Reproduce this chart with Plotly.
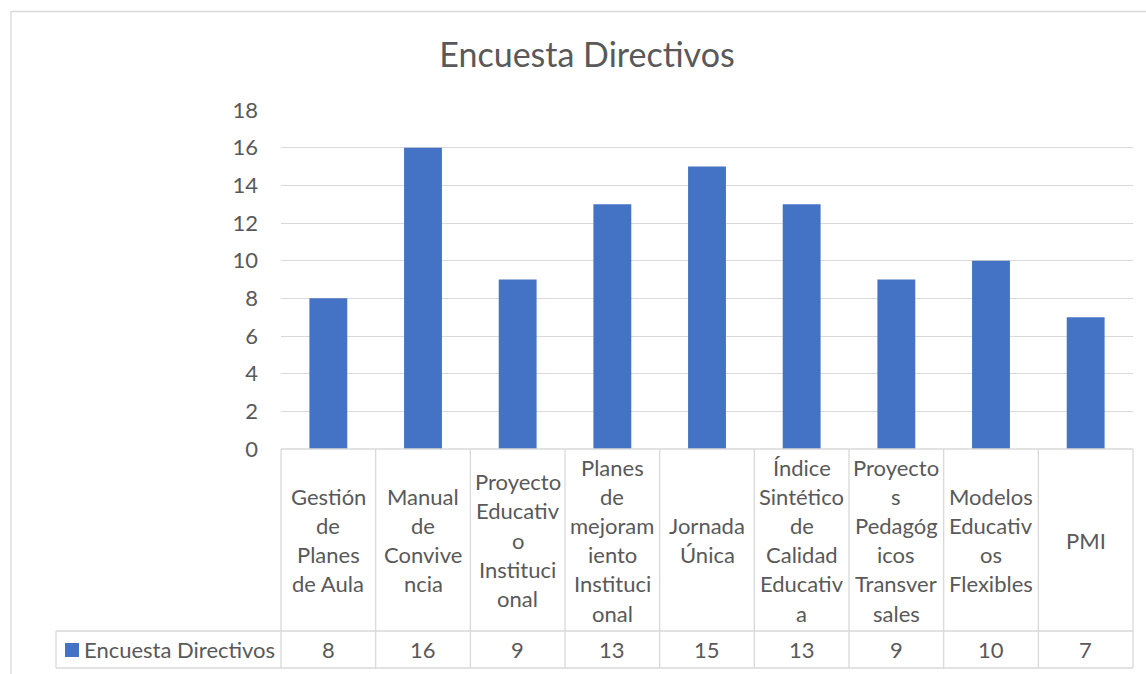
import plotly.graph_objects as go

title = "Encuesta Directivos"
series_name = "Encuesta Directivos"
categories = [
    "Gestión<br>de<br>Planes<br>de Aula",
    "Manual<br>de<br>Convive<br>ncia",
    "Proyecto<br>Educativ<br>o<br>Instituci<br>onal",
    "Planes<br>de<br>mejoram<br>iento<br>Instituci<br>onal",
    "Jornada<br>Única",
    "Índice<br>Sintético<br>de<br>Calidad<br>Educativ<br>a",
    "Proyecto<br>s<br>Pedagóg<br>icos<br>Transver<br>sales",
    "Modelos<br>Educativ<br>os<br>Flexibles",
    "PMI",
]
values = [8, 16, 9, 13, 15, 13, 9, 10, 7]
y_ticks = [0, 2, 4, 6, 8, 10, 12, 14, 16, 18]

W, H = 1146, 674
L, R, T, B = 281, 1133, 110, 449
pw, ph = R - L, B - T
FONT = "Lato"
FS = 22
TXT = "#595959"
GRID = "#d9d9d9"
BAR = "#4472c4"
LINE_H = 29.2

def px_x(x):
    return (x - L) / pw

def px_y(y):
    return (B - y) / ph

n = len(categories)
xs = list(range(n))

fig = go.Figure()
fig.add_trace(go.Bar(x=xs, y=values, marker=dict(color=BAR, line=dict(width=0)),
                     width=0.4, name=series_name, showlegend=False))

shapes = []
annotations = []
line = dict(color=GRID, width=1.3)
header_bottom = 631
table_bottom = 668
legend_left = 56
shapes.append(dict(type="line", xref="paper", yref="paper", x0=0, x1=1,
                   y0=px_y(B), y1=px_y(B), line=line))
shapes.append(dict(type="line", xref="paper", yref="paper", x0=px_x(legend_left), x1=1,
                   y0=px_y(header_bottom), y1=px_y(header_bottom), line=line))
shapes.append(dict(type="line", xref="paper", yref="paper", x0=px_x(legend_left), x1=1,
                   y0=px_y(table_bottom), y1=px_y(table_bottom), line=line))
shapes.append(dict(type="line", xref="paper", yref="paper", x0=px_x(legend_left), x1=px_x(legend_left),
                   y0=px_y(header_bottom), y1=px_y(table_bottom), line=line))
for i in range(n + 1):
    shapes.append(dict(type="line", xref="paper", yref="paper", x0=i / n, x1=i / n,
                       y0=px_y(B), y1=px_y(table_bottom), line=line))

# chart outer border (top and left)
shapes.append(dict(type="line", xref="paper", yref="paper", x0=px_x(11), x1=px_x(W + 5),
                   y0=px_y(11.5), y1=px_y(11.5), line=dict(color=GRID, width=1.3)))
shapes.append(dict(type="line", xref="paper", yref="paper", x0=px_x(11), x1=px_x(11),
                   y0=px_y(11.5), y1=px_y(H + 5), line=dict(color=GRID, width=1.3)))

# legend key
shapes.append(dict(type="rect", xref="paper", yref="paper", x0=px_x(65), x1=px_x(79),
                   y0=px_y(643), y1=px_y(657), fillcolor=BAR, line=dict(width=0)))

hdr_mid = (B + header_bottom) / 2
val_mid = (header_bottom + table_bottom) / 2
for i, (c, v) in enumerate(zip(categories, values)):
    parts = c.split("<br>")
    k = len(parts)
    for j, p in enumerate(parts):
        yc = hdr_mid + (j - (k - 1) / 2) * LINE_H
        annotations.append(dict(x=(i + 0.5) / n, y=px_y(yc), xref="paper", yref="paper",
                                text=p, showarrow=False, xanchor="center", yanchor="middle",
                                font=dict(family=FONT, size=FS, color=TXT)))
    annotations.append(dict(x=(i + 0.5) / n, y=px_y(val_mid), xref="paper",
                            yref="paper", text=str(v), showarrow=False, xanchor="center",
                            yanchor="middle", font=dict(family=FONT, size=FS, color=TXT)))
annotations.append(dict(x=px_x(82), y=px_y(val_mid), xref="paper", yref="paper",
                        text=series_name, showarrow=False, xanchor="left", yanchor="middle",
                        font=dict(family=FONT, size=FS, color=TXT)))

fig.update_layout(
    width=W, height=H,
    margin=dict(l=L, r=W - R, t=T, b=H - B),
    paper_bgcolor="white", plot_bgcolor="white",
    title=dict(text=title, x=587 / W, xanchor="center", y=1 - 55 / H, yanchor="middle",
               font=dict(family=FONT, size=34, color=TXT)),
    xaxis=dict(range=[-0.5, n - 0.5], showticklabels=False, showgrid=False, zeroline=False,
               showline=False, ticks=""),
    yaxis=dict(range=[0, 18], tickvals=y_ticks, showgrid=True, gridcolor=GRID, gridwidth=1.3,
               zeroline=False, showline=False, ticks="", ticklen=0,
               tickfont=dict(family=FONT, size=FS, color=TXT)),
    shapes=shapes, annotations=annotations, bargap=0.6,
)
fig.update_yaxes(ticklabelstandoff=22)
fig.write_html("out.html")
